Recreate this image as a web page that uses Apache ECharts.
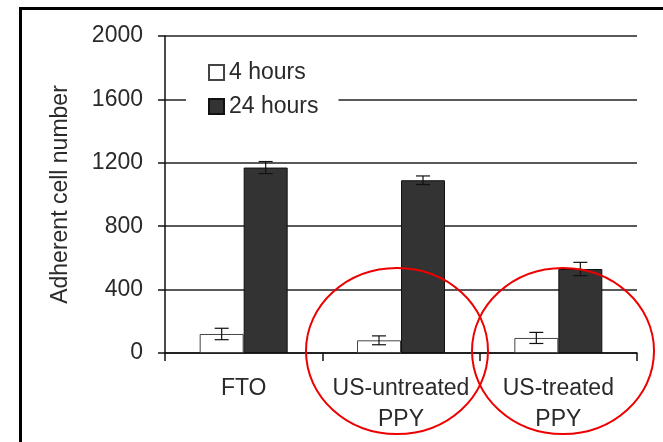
<!DOCTYPE html>
<html>
<head>
<meta charset="utf-8">
<script src="https://cdn.jsdelivr.net/npm/echarts@6/dist/echarts.min.js"></script>
<style>
  html, body { margin: 0; padding: 0; background: #fff; }
  #chart { width: 663px; height: 442px; }
</style>
</head>
<body>
<div id="chart"></div>
<script>
  // categories and values
  var categories = ['FTO', 'US-untreated\nPPY', 'US-treated\nPPY'];
  var hours4 = [120, 80, 95];
  var hours4Err = [36, 28, 35];
  var hours24 = [1170, 1090, 530];
  var hours24Err = [38, 27, 42];
  var yTicks = [0, 400, 800, 1200, 1600, 2000];

  var chart = echarts.init(document.getElementById('chart'));
  var font = 'Liberation Sans, Arial, sans-serif';
  var barW = 44;

  // error bar data: [category index, low, high]
  function errData(vals, errs) {
    return vals.map(function (v, i) {
      return [i, v - errs[i], v + errs[i]];
    });
  }

  function renderErr(offset) {
    return function (params, api) {
      var lo = api.coord([api.value(0), api.value(1)]);
      var hi = api.coord([api.value(0), api.value(2)]);
      var x = lo[0] + offset;
      var cap = 7;
      return {
        type: 'group',
        children: [
          {type: 'line', shape: {x1: x, y1: lo[1], x2: x, y2: hi[1]}, style: {stroke: '#111', lineWidth: 1.2}},
          {type: 'line', shape: {x1: x - cap, y1: hi[1], x2: x + cap, y2: hi[1]}, style: {stroke: '#111', lineWidth: 1.2}},
          {type: 'line', shape: {x1: x - cap, y1: lo[1], x2: x + cap, y2: lo[1]}, style: {stroke: '#111', lineWidth: 1.2}}
        ]
      };
    };
  }

  var option = {
    backgroundColor: '#fff',
    animation: false,
    grid: {left: 165, right: 26, top: 36, bottom: 89},
    legend: {
      orient: 'vertical',
      left: 186,
      top: 51,
      padding: [10, 20, 10, 22],
      backgroundColor: '#fff',
      icon: 'rect',
      itemWidth: 15,
      itemHeight: 15,
      itemGap: 11,
      textStyle: {fontFamily: font, fontSize: 23, color: '#2a2a2a', lineHeight: 23},
      data: ['4 hours', '24 hours']
    },
    xAxis: {
      type: 'category',
      data: categories,
      axisLine: {lineStyle: {color: '#111', width: 1.5}},
      axisTick: {show: true, length: 8, lineStyle: {color: '#111', width: 1.5}},
      axisLabel: {interval: 0, fontFamily: font, fontSize: 23, color: '#2a2a2a', margin: 20, lineHeight: 31}
    },
    yAxis: {
      type: 'value',
      min: yTicks[0],
      max: yTicks[yTicks.length - 1],
      interval: 400,
      name: 'Adherent cell number',
      nameLocation: 'middle',
      nameGap: 93,
      nameTextStyle: {fontFamily: font, fontSize: 23, color: '#2a2a2a'},
      axisLine: {show: true, lineStyle: {color: '#111', width: 1.5}},
      axisTick: {show: true, length: 7, lineStyle: {color: '#111', width: 1.5}},
      axisLabel: {
        fontFamily: font, fontSize: 23, color: '#2a2a2a', margin: 22,
        formatter: function (v) { return String(v); }
      },
      splitLine: {lineStyle: {color: '#222', width: 1.5}}
    },
    series: [
      {
        name: '4 hours',
        type: 'bar',
        barWidth: barW,
        barGap: '0%',
        itemStyle: {color: '#fff', borderColor: '#444', borderWidth: 1},
        data: hours4
      },
      {
        name: '24 hours',
        type: 'bar',
        barWidth: barW,
        barGap: '0%',
        itemStyle: {color: '#333', borderColor: '#111', borderWidth: 1},
        data: hours24
      },
      {
        type: 'custom',
        renderItem: renderErr(-barW / 2),
        data: errData(hours4, hours4Err),
        z: 10
      },
      {
        type: 'custom',
        renderItem: renderErr(barW / 2),
        data: errData(hours24, hours24Err),
        z: 10
      }
    ],
    graphic: [
      // frame round the figure (left and top only)
      {type: 'polyline', shape: {points: [[20.5, 442], [20.5, 8.5], [663, 8.5]]}, style: {stroke: '#000', lineWidth: 3, fill: null}, z: 100},
      // red circles drawn over the two PPY groups
      {type: 'ellipse', shape: {cx: 397, cy: 351, rx: 91, ry: 83}, style: {stroke: '#e00', lineWidth: 2, fill: null}, z: 100},
      {type: 'ellipse', shape: {cx: 563, cy: 351, rx: 91, ry: 83}, style: {stroke: '#e00', lineWidth: 2, fill: null}, z: 100}
    ]
  };
  chart.setOption(option);
</script>
</body>
</html>
